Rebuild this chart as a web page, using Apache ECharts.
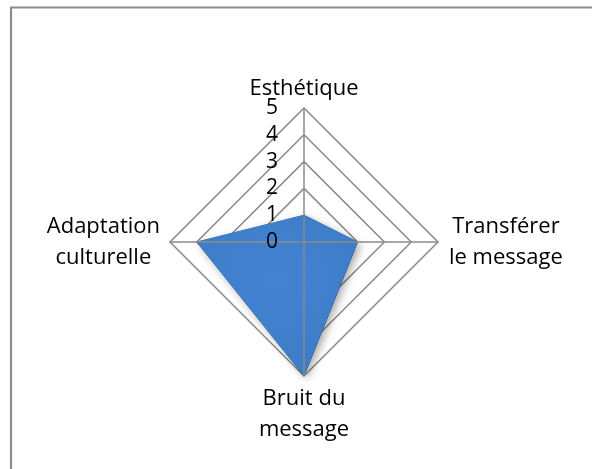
<!DOCTYPE html>
<html>
<head>
<meta charset="utf-8">
<script src="https://cdn.jsdelivr.net/npm/echarts@6/dist/echarts.min.js"></script>
<style>
  html, body { margin: 0; padding: 0; background: #fff; }
  #main { width: 592px; height: 469px; }
</style>
</head>
<body>
<div id="main"></div>
<script>
// axes in ECharts order (top, then counter-clockwise)
var categories = ['Esthétique', 'Adaptation\nculturelle', 'Bruit du\nmessage', 'Transférer\nle message'];
var values = [1, 4, 5, 2];
var maxValue = 5;
// rich style key per side: top, left, bottom, right
var sideKeys = ['t', 'l', 'b', 'r'];

var chart = echarts.init(document.getElementById('main'));

function makeIndicators(withLabel) {
  return categories.map(function (c, i) {
    var ind = { name: c, min: 0, max: maxValue };
    if (withLabel && i === 0) {
      ind.axisLabel = { show: true, showMinLabel: true, showMaxLabel: true };
    }
    return ind;
  });
}

var nameFont = { fontFamily: 'Open Sans', fontSize: 22, lineHeight: 31, color: '#000', align: 'center' };
var gridColor = '#8a8a8a';

var option = {
  backgroundColor: '#fff',
  animation: false,
  graphic: [{
    type: 'rect',
    shape: { x: 11, y: 7.5, width: 700, height: 600 },
    style: { fill: 'none', stroke: '#8c8c8c', lineWidth: 2.2 },
    silent: true
  }],
  radar: [{
    // rings + names, under the filled area
    center: [304, 242],
    radius: 134,
    startAngle: 90,
    splitNumber: 5,
    shape: 'polygon',
    indicator: makeIndicators(false),
    nameGap: 6,
    axisName: {
      color: '#000',
      fontFamily: 'Open Sans',
      fontSize: 22,
      lineHeight: 31,
      formatter: function (name) {
        var k = sideKeys[categories.indexOf(name)];
        return name.split('\n').map(function (s) {
          return '{' + k + '|' + s + '}';
        }).join('\n');
      },
      rich: {
        t: Object.assign({}, nameFont, { lineHeight: 26 }),
        l: Object.assign({}, nameFont, { padding: [0, 4, 0, 0] }),
        b: Object.assign({}, nameFont, { padding: [2, 0, 0, 0] }),
        r: Object.assign({}, nameFont, { padding: [0, 0, 0, 5] })
      }
    },
    axisLine: { show: false },
    splitLine: { lineStyle: { color: gridColor, width: 1.5 } },
    splitArea: { show: false },
    axisTick: { show: false },
    axisLabel: { show: false }
  }, {
    // spokes + value labels, drawn over the filled area
    z: 10,
    center: [304, 242],
    radius: 134,
    startAngle: 90,
    splitNumber: 5,
    shape: 'polygon',
    indicator: makeIndicators(true),
    axisName: { show: false },
    axisLine: { lineStyle: { color: gridColor, width: 1.5 } },
    splitLine: { show: false },
    splitArea: { show: false },
    axisTick: { show: false },
    axisLabel: {
      show: false,
      color: '#000',
      fontFamily: 'Open Sans',
      fontSize: 21,
      margin: 26
    }
  }],
  series: [{
    type: 'radar',
    radarIndex: 0,
    symbol: 'none',
    data: [{
      value: values,
      lineStyle: { color: '#3a73bd', width: 1 },
      areaStyle: {
        opacity: 1,
        color: {
          type: 'radial', x: 0.5, y: 0.4, r: 0.7,
          colorStops: [
            { offset: 0, color: '#4283d2' },
            { offset: 0.8, color: '#3d7cc8' },
            { offset: 1, color: '#336bb3' }
          ]
        },
        shadowColor: 'rgba(0,0,0,0.35)',
        shadowBlur: 8,
        shadowOffsetX: 3,
        shadowOffsetY: 3
      }
    }]
  }]
};

chart.setOption(option);
</script>
</body>
</html>
